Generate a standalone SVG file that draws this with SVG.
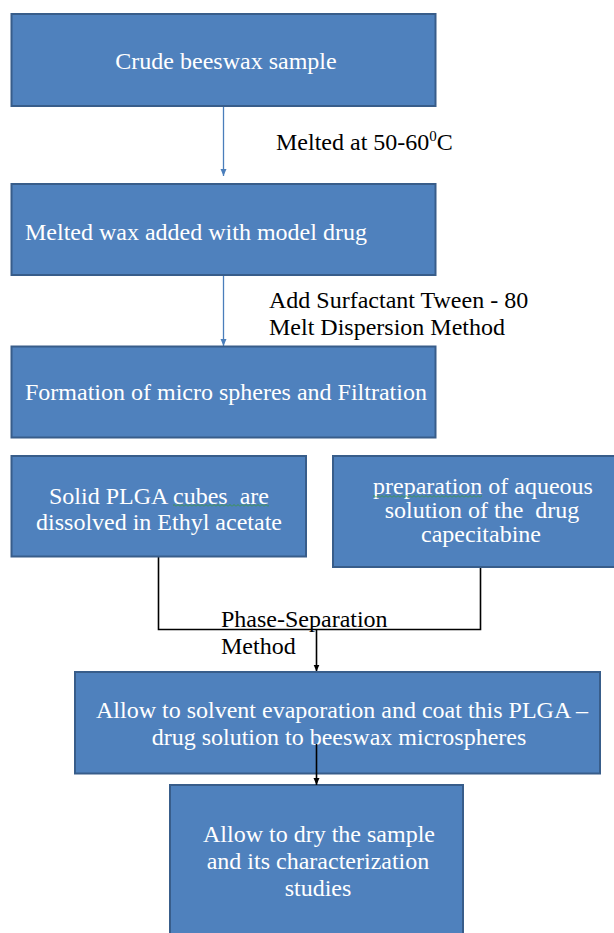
<svg xmlns="http://www.w3.org/2000/svg" width="614" height="933" viewBox="0 0 614 933">
  <style>
    .box { fill: #4f81bd; stroke: #385d8a; stroke-width: 2; }
    .bt { font-family: "Liberation Serif", "Times New Roman", serif; font-size: 24px; fill: #ffffff; }
    .lbl { font-family: "Liberation Serif", "Times New Roman", serif; font-size: 24px; fill: #000000; }
    .mid { text-anchor: middle; }
    .blue { stroke: #4a7ebb; stroke-width: 1.3; fill: none; }
    .blk { stroke: #000000; stroke-width: 1.6; fill: none; }
  </style>
  <defs>
    <marker id="arrBlue" markerUnits="userSpaceOnUse" markerWidth="8" markerHeight="8" refX="7" refY="4" orient="auto">
      <path d="M0,1 L7,4 L0,7 z" fill="#4a7ebb"/>
    </marker>
    <marker id="arrBlack" markerUnits="userSpaceOnUse" markerWidth="8" markerHeight="8" refX="7" refY="4" orient="auto">
      <path d="M0,1 L7,4 L0,7 z" fill="#000000"/>
    </marker>
    <pattern id="wavy" width="4" height="3" patternUnits="userSpaceOnUse">
      <path d="M0,2.5 L2,0.5 L4,2.5" stroke="#3a9a3a" stroke-width="0.9" fill="none"/>
    </pattern>
  </defs>

  <rect width="614" height="933" fill="#ffffff"/>

  <g id="connectors">
    <line class="blue" x1="223.5" y1="106" x2="223.5" y2="176" marker-end="url(#arrBlue)"/>
    <line class="blue" x1="223.5" y1="275" x2="223.5" y2="346" marker-end="url(#arrBlue)"/>
    <polyline class="blk" points="158.5,556.5 158.5,629.5 480.5,629.5 480.5,567"/>
    <line class="blk" x1="316.5" y1="629.5" x2="316.5" y2="671.5" marker-end="url(#arrBlack)"/>
  </g>

  <g id="node-crude">
    <rect class="box" x="11.5" y="14" width="424" height="92"/>
    <text class="bt mid" x="226" y="69">Crude beeswax sample</text>
  </g>

  <g id="node-melted">
    <rect class="box" x="11.5" y="184" width="424" height="91"/>
    <text class="bt" x="25" y="240">Melted wax added with model drug</text>
  </g>

  <g id="node-formation">
    <rect class="box" x="11.5" y="346.5" width="424" height="91"/>
    <text class="bt" x="25" y="400">Formation of micro spheres and Filtration</text>
  </g>

  <g id="node-plga">
    <rect class="box" x="11.5" y="456" width="294.5" height="100.5"/>
    <text class="bt mid" x="159" y="503.5" xml:space="preserve">Solid PLGA cubes  are</text>
    <text class="bt mid" x="159" y="529.5">dissolved in Ethyl acetate</text>
    <rect x="173" y="504" width="96" height="3" fill="url(#wavy)"/>
  </g>

  <g id="node-aqueous">
    <rect class="box" x="333" y="456" width="300" height="111"/>
    <text class="bt mid" x="483" y="493.5">preparation of aqueous</text>
    <text class="bt mid" x="482" y="517.5" xml:space="preserve">solution of the  drug</text>
    <text class="bt mid" x="481" y="542">capecitabine</text>
    <rect x="373" y="495" width="109" height="3" fill="url(#wavy)"/>
  </g>

  <g id="node-coat">
    <rect class="box" x="75" y="672" width="525" height="101.5"/>
    <text class="bt mid" x="342" y="718">Allow to solvent evaporation and coat this PLGA –</text>
    <text class="bt mid" x="339" y="745">drug solution to beeswax microspheres</text>
  </g>

  <g id="node-dry">
    <rect class="box" x="170" y="785" width="293" height="160"/>
    <text class="bt mid" x="319" y="842">Allow to dry the sample</text>
    <text class="bt mid" x="318" y="869">and its characterization</text>
    <text class="bt mid" x="318" y="896">studies</text>
  </g>

  <g id="connector-coat-dry">
    <line class="blk" x1="316.5" y1="744" x2="316.5" y2="785" marker-end="url(#arrBlack)"/>
  </g>

  <g id="labels">
    <text class="lbl" x="276" y="150">Melted at 50-60<tspan font-size="15" dy="-9">0</tspan><tspan dy="9">C</tspan></text>
    <text class="lbl" x="269" y="308">Add Surfactant Tween - 80</text>
    <text class="lbl" x="269" y="335">Melt Dispersion Method</text>
    <text class="lbl" x="221" y="626.5">Phase-Separation</text>
    <text class="lbl" x="221" y="654">Method</text>
  </g>
</svg>
